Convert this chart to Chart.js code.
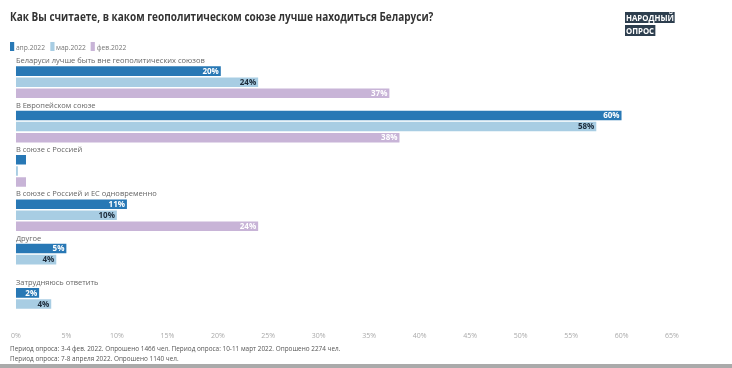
<!DOCTYPE html>
<html lang="ru">
<head>
<meta charset="UTF-8" />
<script src="https://cdn.jsdelivr.net/npm/chart.js@4.4.1/dist/chart.umd.min.js"></script>
<title>Геополитический союз</title>
<style>
  body { margin: 0; width: 732px; height: 368px; overflow: hidden; background: #fff; font-family: "Open Sans", "Noto Sans", sans-serif; position: relative; }
  #title { position: absolute; left: 10px; top: 7px; font-size: 13px; font-weight: bold; color: #333; transform: scaleX(0.77); transform-origin: left top; white-space: nowrap; }
  #logo { position: absolute; left: 625px; top: 12px; font-weight: bold; font-size: 8.5px; line-height: 12.5px; color: #fff; transform: scaleX(0.92); transform-origin: left top; }
  #logo span { background: #2d3e4e; padding: 0 1px; }
  #legend { position: absolute; left: 10px; top: 41px; font-size: 8px; color: #777; transform: scaleX(0.84); transform-origin: left top; white-space: nowrap; }
  #legend i { display: inline-block; width: 5px; height: 9px; vertical-align: -1px; margin-right: 2px; }
  #legend b { font-weight: normal; margin-right: 6px; }
  #note { position: absolute; left: 10px; top: 343px; font-size: 8px; line-height: 10px; color: #555; transform: scaleX(0.8); transform-origin: left top; white-space: nowrap; }
  #strip { position: absolute; left: 0; top: 364px; width: 732px; height: 4px; background: #aaa; }
  #chart { position: absolute; left: 0; top: 0; }
</style>
</head>
<body>
<canvas id="chart" width="732" height="351"></canvas>
<div id="title">Как Вы считаете, в каком геополитическом союзе лучше находиться Беларуси?</div>
<div id="logo"><span>НАРОДНЫЙ</span><br><span>ОПРОС</span></div>
<div id="legend"></div>
<div id="note">Период опроса: 3-4 фев. 2022. Опрошено 1466 чел. Период опроса: 10-11 март 2022. Опрошено 2274 чел.<br>Период опроса: 7-8 апреля 2022. Опрошено 1140 чел.</div>
<div id="strip"></div>
<script>
let categories = [
  "Беларуси лучше быть вне геополитических союзов",
  "В Европейском союзе",
  "В союзе с Россией",
  "В союзе с Россией и ЕС одновременно",
  "Другое",
  "Затрудняюсь ответить"
];
let seriesNames = ["апр.2022", "мар.2022", "фев.2022"];
let apr2022 = [20.3, 60, 1, 11, 5, 2.3];
let mar2022 = [24, 57.5, 0.2, 10, 4, 3.5];
let feb2022 = [37, 38, 1, 24, null, null];
let colors = ["#2878b5", "#a8cde3", "#c8b4d7"];
let labelColors = ["#ffffff", "#1c2b3a", "#ffffff"];
let xTicks = [0, 5, 10, 15, 20, 25, 30, 35, 40, 45, 50, 55, 60, 65];

// legend in html
let legendHtml = "";
seriesNames.forEach((n, i) => {
  legendHtml += '<i style="background:' + colors[i] + '"></i><b>' + n + "</b>";
});
document.getElementById("legend").innerHTML = legendHtml;

let seriesData = [apr2022, mar2022, feb2022];
let datasets = [{ label: "spacer", data: categories.map(() => null), backgroundColor: "transparent" }];
seriesData.forEach((d, i) => {
  datasets.push({ label: seriesNames[i], data: d, backgroundColor: colors[i] });
});

const groupLabels = {
  id: "groupLabels",
  afterDatasetsDraw(chart) {
    const ctx = chart.ctx;
    const y = chart.scales.y;
    const left = chart.chartArea.left;
    ctx.save();
    ctx.font = '7.5px "Open Sans", sans-serif';
    ctx.fillStyle = "#666";
    ctx.textBaseline = "middle";
    ctx.textAlign = "left";
    categories.forEach((c, i) => {
      const cy = y.getPixelForValue(i) - y.height / categories.length * 3 / 8 + 1;
      ctx.fillText(c, left, cy);
    });
    // values inside bars
    ctx.font = 'bold 8px "Open Sans", sans-serif';
    ctx.textAlign = "right";
    for (let s = 1; s <= 3; s++) {
      const meta = chart.getDatasetMeta(s);
      meta.data.forEach((bar, i) => {
        const v = seriesData[s - 1][i];
        if (v == null || v < 2) return;
        ctx.fillStyle = labelColors[s - 1];
        ctx.fillText(Math.round(v) + "%", bar.x - 2, bar.y + 0.5);
      });
    }
    ctx.restore();
  }
};

new Chart(document.getElementById("chart"), {
  type: "bar",
  data: { labels: categories, datasets: datasets },
  options: {
    indexAxis: "y",
    responsive: false,
    animation: false,
    layout: { padding: { top: 54.5, left: 5, right: 60, bottom: 0 } },
    datasets: { bar: { categoryPercentage: 1.0, barPercentage: 0.86 } },
    plugins: { legend: { display: false }, tooltip: { enabled: false } },
    scales: {
      y: { display: false },
      x: {
        min: 0,
        max: 65,
        grid: { display: false, drawTicks: false },
        border: { display: false },
        afterBuildTicks(axis) {
          axis.ticks = xTicks.map(v => ({ value: v }));
        },
        ticks: {
          padding: 11,
          maxRotation: 0,
          color: "#aaa",
          font: { size: 7, family: '"Open Sans", sans-serif' },
          callback: v => v + "%"
        }
      }
    }
  },
  plugins: [groupLabels]
});
</script>
</body>
</html>
